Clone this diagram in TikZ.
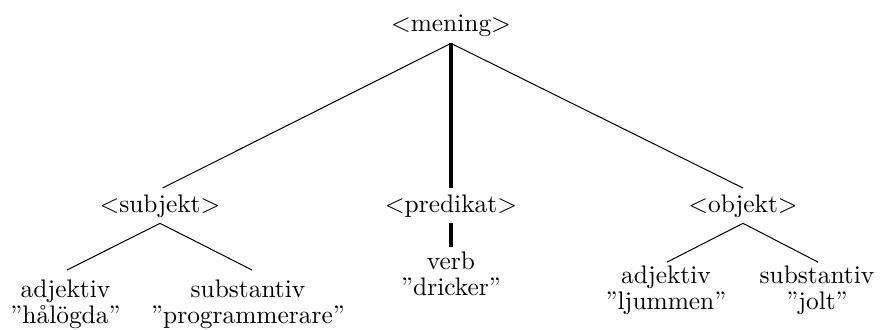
\documentclass[tikz,border=0pt]{standalone}
\newcommand{\leaffont}{\fontsize{10pt}{10.24pt}\selectfont\lineskiplimit=-20pt\relax}
\begin{document}
\begin{tikzpicture}[x=0.3937pt, y=-0.3937pt,
  lbl/.style={inner sep=0pt, outer sep=0pt},
  leaf/.style={inner sep=0pt, outer sep=0pt, align=center, anchor=north,
    font=\leaffont},
  conn/.style={line width=0.4pt},
  thickconn/.style={line width=1.3pt}]
\useasboundingbox (0,0) rectangle (881,329);
% level 0
\node[lbl, anchor=base] (men) at (451,31) {$<$mening$>$};
% level 1
\node[lbl, anchor=base] (subj) at (160,212) {$<$subjekt$>$};
\node[lbl, anchor=base] (pred) at (451,212) {$<$predikat$>$};
\node[lbl, anchor=base] (obj) at (743,212) {$<$objekt$>$};
% leaves
\node[leaf] (adjl) at (65.5,279.4) {adjektiv\\''hålögda''};
\node[leaf] (subl) at (248,279.4) {substantiv\\''programmerare''};
\node[leaf] (verb) at (451,251.4) {verb\\''dricker''};
\node[leaf] (adjr) at (666,265.4) {adjektiv\\''ljummen''};
\node[leaf] (subr) at (817,265.4) {substantiv\\''jolt''};
% connectors
\draw[conn] ([yshift=-2.8pt]men.south) -- ([xshift=1pt,yshift=2.5pt]subj.north);
\draw[thickconn] ([yshift=-2.8pt]men.south) -- ([yshift=2.5pt]pred.north);
\draw[conn] ([yshift=-2.8pt]men.south) -- ([yshift=2.5pt]obj.north);
\draw[conn] ([yshift=-2.4pt]subj.south) -- ([xshift=0.6pt,yshift=3.7pt]adjl.north);
\draw[conn] ([yshift=-2.4pt]subj.south) -- ([xshift=1.6pt,yshift=3.7pt]subl.north);
\draw[thickconn] ([yshift=-2.4pt]pred.south) -- ([yshift=1.7pt]verb.north);
\draw[conn] ([yshift=-2.4pt]obj.south) -- ([xshift=0.4pt,yshift=1.3pt]adjr.north);
\draw[conn] ([yshift=-2.4pt]obj.south) -- ([xshift=0.4pt,yshift=1.3pt]subr.north);
\end{tikzpicture}
\end{document}
